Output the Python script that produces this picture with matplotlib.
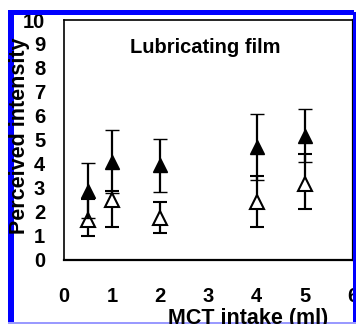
import numpy as np
import matplotlib
matplotlib.use('Agg')
import matplotlib.pyplot as plt
from matplotlib.patches import Rectangle

# MCT intake (ml)
intake = [0.5, 1, 2, 4, 5]

# filled triangles
series_a = [2.87, 4.08, 3.93, 4.70, 5.17]
series_a_lo = [1.14, 1.32, 1.12, 1.36, 1.10]
series_a_hi = [1.14, 1.32, 1.12, 1.39, 1.10]

# open triangles
series_b = [1.67, 2.48, 1.75, 2.41, 3.17]
series_b_lo = [0.69, 1.11, 0.65, 1.04, 1.08]
series_b_hi = [0.85, 0.39, 0.65, 1.07, 1.23]

x_ticks = [0, 1, 2, 3, 4, 5, 6]
y_ticks = [0, 1, 2, 3, 4, 5, 6, 7, 8, 9, 10]

W, H = 356, 324

plt.rcParams['font.family'] = ['Liberation Sans', 'DejaVu Sans']
plt.rcParams['font.weight'] = 'bold'


def px(x0, y0, w, h):
    """pixel box (from top left) -> figure fraction"""
    return x0 / W, 1 - (y0 + h) / H, w / W, h / H


def blue_box(x0, y0, w, h, color='#0000ff'):
    """rectangle of the crop border, in pixels"""
    l, b, ww, hh = px(x0, y0, w, h)
    fig.add_artist(Rectangle((l, b), ww, hh, transform=fig.transFigure,
                             color=color, lw=0))


fig = plt.figure(figsize=(W / 100, H / 100), dpi=100)
ax = fig.add_axes(px(64, 20, 289, 239.5))

# open series first, filled over it
ax.errorbar(intake, series_b, yerr=[series_b_lo, series_b_hi], fmt='^',
            color='black', mfc='white', mec='black', ms=9.5, mew=1.5,
            elinewidth=1.6, capsize=4.7, capthick=1.6, zorder=3)
ax.errorbar(intake, series_a, yerr=[series_a_lo, series_a_hi], fmt='^',
            color='black', mfc='black', mec='black', ms=9.5, mew=1.0,
            elinewidth=1.6, capsize=4.7, capthick=1.6, zorder=4)

ax.set_xlim(0, 6)
ax.set_ylim(0, 10)
ax.set_xticks(x_ticks)
ax.set_yticks(y_ticks)
ax.set_xticks([2, 4], minor=True)
ax.set_yticks([3], minor=True)
ax.tick_params(axis='both', which='major', length=0, labelsize=14.5)
ax.tick_params(axis='x', which='major', pad=20)
ax.tick_params(axis='y', which='major', pad=13.5)
ax.tick_params(axis='both', which='minor', length=4.5, width=1.0,
               direction='out')

for side in ['left', 'top']:
    ax.spines[side].set_linewidth(1.2)
for side in ['bottom', 'right']:
    ax.spines[side].set_linewidth(1.6)

ax.text(0.488, 0.887, 'Lubricating film', transform=ax.transAxes,
        ha='center', va='center', fontsize=14.5, fontweight='bold')

# axis titles, placed where they sit in the cropped picture
fig.text(20 / W, 1 - 136 / H, 'Perceived intensity', rotation=90,
         ha='center', va='center', fontsize=15.5, fontweight='bold')
fig.text(248 / W, 1 - 324 / H, 'MCT intake (ml)', ha='center',
         va='baseline', fontsize=15.5, fontweight='bold')

# blue selection border of the crop
blue_box(8, 10, 6, 314)
blue_box(8, 10, 346, 5)
blue_box(353, 12, 3, 312)
blue_box(8, 322, 348, 2, color='#9a9aff')

fig.savefig('out.png', dpi=100)
